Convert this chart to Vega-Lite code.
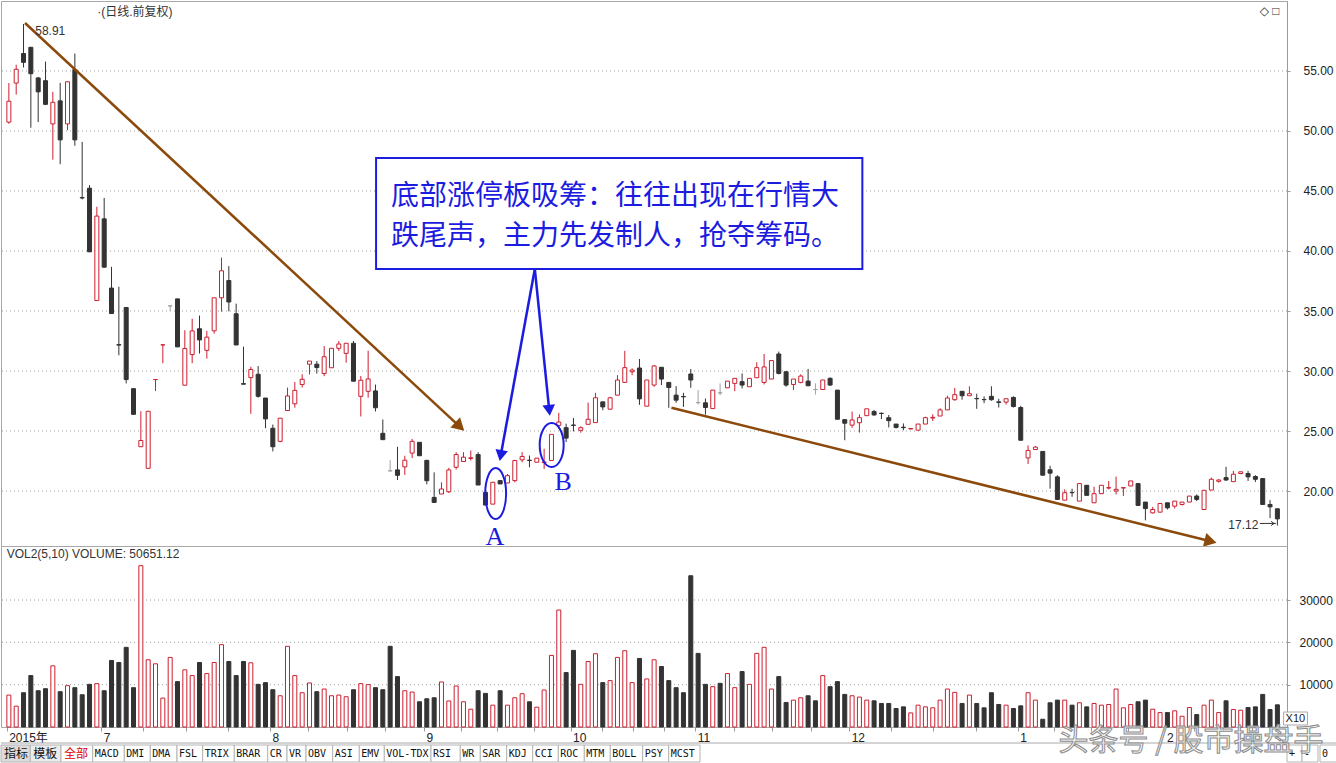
{
"$schema": "https://vega.github.io/schema/vega-lite/v6.json",
"padding": 0,
"background": "white",
"spacing": 0,
"bounds": "flush",
"config": {"view": {"stroke": null}, "font": "Liberation Sans", "axis": {"labelFont": "Liberation Sans, Noto Sans CJK SC", "labelColor": "#222222", "labelFontSize": 12, "domainColor": "#9a9a9a", "tickColor": "#9a9a9a"}},
"resolve": {"scale": {"x": "independent", "y": "independent", "fill": "independent", "stroke": "independent"}},
"datasets": {
"k": [
{"i":0,"o":50.74,"h":53.99,"l":50.6,"c":52.48,"v":7540,"dir":"up"},
{"i":1,"o":53.99,"h":55.52,"l":53.03,"c":55.14,"v":4920,"dir":"up"},
{"i":2,"o":56.45,"h":58.91,"l":55.29,"c":55.72,"v":8100,"dir":"down"},
{"i":3,"o":56.97,"h":57.0,"l":50.27,"c":54.77,"v":12150,"dir":"down"},
{"i":4,"o":54.42,"h":54.5,"l":50.74,"c":53.26,"v":8570,"dir":"down"},
{"i":5,"o":54.19,"h":55.78,"l":52.16,"c":52.22,"v":9050,"dir":"down"},
{"i":6,"o":50.59,"h":53.26,"l":47.61,"c":52.39,"v":14450,"dir":"up"},
{"i":7,"o":52.51,"h":54.01,"l":47.23,"c":49.26,"v":8340,"dir":"down"},
{"i":8,"o":50.59,"h":54.1,"l":50.07,"c":54.1,"v":9770,"dir":"up"},
{"i":9,"o":55.12,"h":56.45,"l":48.77,"c":49.26,"v":9290,"dir":"down"},
{"i":10,"o":44.45,"h":49.09,"l":44.3,"c":44.42,"v":7620,"dir":"down"},
{"i":11,"o":45.23,"h":45.49,"l":39.93,"c":39.93,"v":10080,"dir":"down"},
{"i":12,"o":35.87,"h":43.69,"l":35.87,"c":42.91,"v":10240,"dir":"up"},
{"i":13,"o":42.68,"h":44.42,"l":38.65,"c":38.65,"v":8570,"dir":"down"},
{"i":14,"o":36.91,"h":38.68,"l":34.79,"c":34.79,"v":15720,"dir":"down"},
{"i":15,"o":32.2,"h":37.03,"l":31.31,"c":32.16,"v":15240,"dir":"down"},
{"i":16,"o":35.29,"h":35.34,"l":28.97,"c":29.29,"v":18820,"dir":"down"},
{"i":17,"o":28.53,"h":28.53,"l":26.39,"c":26.39,"v":9290,"dir":"down"},
{"i":18,"o":23.69,"h":26.65,"l":23.69,"c":24.21,"v":38110,"dir":"up"},
{"i":19,"o":21.89,"h":26.65,"l":21.89,"c":26.65,"v":15880,"dir":"up"},
{"i":20,"o":29.29,"h":29.29,"l":28.33,"c":29.29,"v":14930,"dir":"up"},
{"i":21,"o":32.18,"h":32.18,"l":30.65,"c":32.18,"v":6830,"dir":"up"},
{"i":22,"o":35.43,"h":35.43,"l":35.0,"c":35.43,"v":16440,"dir":"flatup"},
{"i":23,"o":36.01,"h":36.01,"l":32.01,"c":32.01,"v":10720,"dir":"down"},
{"i":24,"o":28.82,"h":33.4,"l":28.82,"c":31.87,"v":13500,"dir":"up"},
{"i":25,"o":31.37,"h":34.36,"l":30.65,"c":33.34,"v":12150,"dir":"up"},
{"i":26,"o":33.52,"h":34.62,"l":31.46,"c":32.59,"v":15240,"dir":"down"},
{"i":27,"o":31.72,"h":33.34,"l":31.03,"c":32.82,"v":12620,"dir":"up"},
{"i":28,"o":33.35,"h":36.1,"l":33.11,"c":36.1,"v":15240,"dir":"up"},
{"i":29,"o":36.1,"h":39.45,"l":34.95,"c":38.35,"v":19450,"dir":"up"},
{"i":30,"o":37.54,"h":38.74,"l":34.97,"c":35.75,"v":15480,"dir":"down"},
{"i":31,"o":34.77,"h":35.61,"l":32.17,"c":32.17,"v":12150,"dir":"down"},
{"i":32,"o":28.95,"h":32.03,"l":28.9,"c":28.9,"v":15480,"dir":"down"},
{"i":33,"o":29.45,"h":30.35,"l":26.43,"c":30.13,"v":15170,"dir":"up"},
{"i":34,"o":29.73,"h":30.41,"l":27.78,"c":27.89,"v":10080,"dir":"down"},
{"i":35,"o":27.75,"h":27.75,"l":25.23,"c":26.01,"v":10480,"dir":"down"},
{"i":36,"o":25.23,"h":25.54,"l":23.3,"c":23.69,"v":8810,"dir":"down"},
{"i":37,"o":24.14,"h":26.07,"l":24.06,"c":26.07,"v":7380,"dir":"up"},
{"i":38,"o":26.71,"h":28.62,"l":26.71,"c":27.92,"v":19060,"dir":"up"},
{"i":39,"o":27.27,"h":29.09,"l":26.94,"c":28.39,"v":12150,"dir":"up"},
{"i":40,"o":28.87,"h":29.73,"l":28.62,"c":29.31,"v":8100,"dir":"up"},
{"i":41,"o":30.57,"h":30.83,"l":29.71,"c":30.83,"v":10400,"dir":"up"},
{"i":42,"o":30.57,"h":30.83,"l":29.79,"c":30.29,"v":8340,"dir":"down"},
{"i":43,"o":29.79,"h":32.08,"l":29.57,"c":31.19,"v":8970,"dir":"up"},
{"i":44,"o":30.27,"h":31.89,"l":30.27,"c":31.89,"v":7380,"dir":"up"},
{"i":45,"o":31.89,"h":32.5,"l":31.66,"c":32.25,"v":7540,"dir":"up"},
{"i":46,"o":31.47,"h":32.31,"l":30.69,"c":32.31,"v":7150,"dir":"up"},
{"i":47,"o":32.31,"h":32.5,"l":29.15,"c":29.15,"v":8810,"dir":"down"},
{"i":48,"o":27.89,"h":29.59,"l":26.21,"c":29.23,"v":10240,"dir":"up"},
{"i":49,"o":28.31,"h":31.69,"l":27.78,"c":29.34,"v":10000,"dir":"up"},
{"i":50,"o":28.34,"h":28.87,"l":26.63,"c":26.94,"v":9290,"dir":"down"},
{"i":51,"o":24.81,"h":25.96,"l":24.28,"c":24.28,"v":8810,"dir":"down"},
{"i":52,"o":21.68,"h":22.57,"l":21.68,"c":21.68,"v":19060,"dir":"flatdown"},
{"i":53,"o":21.76,"h":23.69,"l":20.92,"c":21.31,"v":11910,"dir":"down"},
{"i":54,"o":22.01,"h":22.94,"l":21.34,"c":22.57,"v":8570,"dir":"up"},
{"i":55,"o":23.16,"h":24.34,"l":22.74,"c":24.14,"v":8260,"dir":"up"},
{"i":56,"o":24.06,"h":24.06,"l":22.94,"c":22.94,"v":5960,"dir":"down"},
{"i":57,"o":22.56,"h":22.56,"l":20.56,"c":20.86,"v":6670,"dir":"down"},
{"i":58,"o":19.47,"h":21.56,"l":19.05,"c":19.05,"v":6910,"dir":"down"},
{"i":59,"o":19.75,"h":20.73,"l":19.75,"c":20.17,"v":10640,"dir":"up"},
{"i":60,"o":19.94,"h":21.93,"l":19.83,"c":21.76,"v":6150,"dir":"up"},
{"i":61,"o":21.98,"h":23.24,"l":21.79,"c":23.04,"v":9690,"dir":"up"},
{"i":62,"o":22.46,"h":23.24,"l":22.46,"c":22.82,"v":5960,"dir":"up"},
{"i":63,"o":22.71,"h":23.38,"l":22.54,"c":22.77,"v":4210,"dir":"up"},
{"i":64,"o":23.04,"h":23.24,"l":20.5,"c":20.5,"v":8570,"dir":"down"},
{"i":65,"o":19.89,"h":19.89,"l":18.83,"c":18.83,"v":7940,"dir":"down"},
{"i":66,"o":18.91,"h":20.73,"l":18.91,"c":20.73,"v":5160,"dir":"up"},
{"i":67,"o":20.87,"h":20.87,"l":20.59,"c":20.59,"v":8570,"dir":"down"},
{"i":68,"o":20.67,"h":21.42,"l":20.67,"c":21.28,"v":5160,"dir":"up"},
{"i":69,"o":20.87,"h":22.6,"l":20.73,"c":22.54,"v":6910,"dir":"up"},
{"i":70,"o":22.6,"h":23.24,"l":22.4,"c":22.88,"v":7860,"dir":"up"},
{"i":71,"o":22.57,"h":22.96,"l":21.98,"c":22.54,"v":5960,"dir":"down"},
{"i":72,"o":22.4,"h":22.74,"l":22.4,"c":22.74,"v":4680,"dir":"up"},
{"i":73,"o":22.37,"h":23.52,"l":21.84,"c":22.42,"v":8730,"dir":"up"},
{"i":74,"o":22.54,"h":24.72,"l":22.54,"c":24.72,"v":16910,"dir":"up"},
{"i":75,"o":25.47,"h":26.51,"l":25.2,"c":25.75,"v":27630,"dir":"up"},
{"i":76,"o":25.28,"h":25.61,"l":24.08,"c":24.41,"v":12860,"dir":"down"},
{"i":77,"o":25.5,"h":26.09,"l":24.97,"c":25.47,"v":18100,"dir":"down"},
{"i":78,"o":25.06,"h":25.39,"l":24.86,"c":25.28,"v":10080,"dir":"up"},
{"i":79,"o":25.56,"h":27.37,"l":25.56,"c":25.98,"v":15480,"dir":"up"},
{"i":80,"o":25.7,"h":28.18,"l":25.7,"c":27.77,"v":17310,"dir":"up"},
{"i":81,"o":27.43,"h":27.43,"l":26.73,"c":27.01,"v":10480,"dir":"down"},
{"i":82,"o":26.82,"h":27.85,"l":26.82,"c":27.77,"v":10960,"dir":"up"},
{"i":83,"o":27.99,"h":29.66,"l":27.99,"c":29.25,"v":16440,"dir":"up"},
{"i":84,"o":29.05,"h":31.68,"l":29.05,"c":30.28,"v":18020,"dir":"up"},
{"i":85,"o":29.94,"h":30.22,"l":29.66,"c":30.08,"v":10480,"dir":"up"},
{"i":86,"o":30.25,"h":31.0,"l":27.18,"c":27.68,"v":16200,"dir":"down"},
{"i":87,"o":27.07,"h":29.25,"l":27.07,"c":29.25,"v":11350,"dir":"up"},
{"i":88,"o":28.83,"h":30.5,"l":28.69,"c":30.42,"v":15880,"dir":"up"},
{"i":89,"o":30.31,"h":30.31,"l":28.83,"c":29.33,"v":14290,"dir":"down"},
{"i":90,"o":29.05,"h":29.05,"l":26.93,"c":28.63,"v":10960,"dir":"down"},
{"i":91,"o":27.99,"h":28.74,"l":27.35,"c":27.57,"v":9290,"dir":"down"},
{"i":92,"o":27.88,"h":28.18,"l":27.01,"c":27.85,"v":8100,"dir":"down"},
{"i":93,"o":29.75,"h":30.17,"l":28.6,"c":29.25,"v":35730,"dir":"down"},
{"i":94,"o":27.37,"h":28.41,"l":27.21,"c":27.37,"v":17390,"dir":"flatdown"},
{"i":95,"o":27.35,"h":27.71,"l":26.37,"c":26.96,"v":10080,"dir":"down"},
{"i":96,"o":26.87,"h":28.41,"l":26.87,"c":28.41,"v":9530,"dir":"up"},
{"i":97,"o":28.18,"h":28.97,"l":27.99,"c":28.18,"v":10320,"dir":"flatdown"},
{"i":98,"o":28.6,"h":29.16,"l":28.6,"c":29.16,"v":12620,"dir":"up"},
{"i":99,"o":28.97,"h":29.39,"l":28.32,"c":29.39,"v":9290,"dir":"up"},
{"i":100,"o":29.11,"h":29.8,"l":28.55,"c":28.83,"v":13100,"dir":"down"},
{"i":101,"o":28.69,"h":29.39,"l":28.69,"c":29.39,"v":10080,"dir":"up"},
{"i":102,"o":29.44,"h":30.73,"l":29.44,"c":30.28,"v":17390,"dir":"up"},
{"i":103,"o":29.05,"h":31.42,"l":28.88,"c":30.34,"v":18820,"dir":"up"},
{"i":104,"o":29.33,"h":30.87,"l":29.33,"c":30.87,"v":8970,"dir":"up"},
{"i":105,"o":31.42,"h":31.62,"l":29.72,"c":29.8,"v":11910,"dir":"down"},
{"i":106,"o":29.94,"h":29.94,"l":28.69,"c":28.83,"v":5800,"dir":"down"},
{"i":107,"o":28.88,"h":29.33,"l":28.41,"c":29.33,"v":6350,"dir":"up"},
{"i":108,"o":29.05,"h":29.72,"l":28.97,"c":29.58,"v":6910,"dir":"up"},
{"i":109,"o":29.16,"h":30.17,"l":28.77,"c":28.77,"v":7380,"dir":"down"},
{"i":110,"o":28.46,"h":28.97,"l":28.04,"c":28.46,"v":6190,"dir":"flatdown"},
{"i":111,"o":28.46,"h":29.25,"l":28.46,"c":29.25,"v":12150,"dir":"up"},
{"i":112,"o":29.39,"h":29.47,"l":28.77,"c":28.83,"v":9530,"dir":"down"},
{"i":113,"o":28.41,"h":28.41,"l":25.98,"c":25.98,"v":10720,"dir":"down"},
{"i":114,"o":25.95,"h":25.95,"l":24.23,"c":25.65,"v":7700,"dir":"down"},
{"i":115,"o":25.49,"h":26.62,"l":25.27,"c":25.92,"v":7380,"dir":"up"},
{"i":116,"o":25.69,"h":26.39,"l":24.87,"c":26.11,"v":7070,"dir":"up"},
{"i":117,"o":26.28,"h":26.85,"l":26.28,"c":26.85,"v":6350,"dir":"up"},
{"i":118,"o":26.62,"h":26.76,"l":26.28,"c":26.34,"v":6190,"dir":"down"},
{"i":119,"o":26.48,"h":26.54,"l":26.0,"c":26.46,"v":5560,"dir":"down"},
{"i":120,"o":26.11,"h":26.34,"l":25.3,"c":25.86,"v":5560,"dir":"down"},
{"i":121,"o":25.58,"h":25.58,"l":25.21,"c":25.3,"v":4370,"dir":"down"},
{"i":122,"o":25.32,"h":25.63,"l":25.07,"c":25.28,"v":4760,"dir":"down"},
{"i":123,"o":25.17,"h":25.21,"l":25.17,"c":25.21,"v":3330,"dir":"up"},
{"i":124,"o":25.07,"h":25.58,"l":25.07,"c":25.58,"v":5160,"dir":"up"},
{"i":125,"o":25.58,"h":26.2,"l":25.58,"c":26.11,"v":4760,"dir":"up"},
{"i":126,"o":26.08,"h":26.39,"l":25.83,"c":26.14,"v":4530,"dir":"up"},
{"i":127,"o":26.25,"h":26.9,"l":26.25,"c":26.76,"v":6350,"dir":"up"},
{"i":128,"o":26.76,"h":27.94,"l":26.76,"c":27.75,"v":8970,"dir":"up"},
{"i":129,"o":27.61,"h":28.59,"l":27.52,"c":28.03,"v":8180,"dir":"up"},
{"i":130,"o":28.31,"h":28.31,"l":27.61,"c":27.94,"v":5560,"dir":"down"},
{"i":131,"o":27.94,"h":28.73,"l":27.94,"c":28.11,"v":7540,"dir":"up"},
{"i":132,"o":27.71,"h":28.11,"l":26.85,"c":27.69,"v":5560,"dir":"down"},
{"i":133,"o":27.63,"h":27.89,"l":27.32,"c":27.61,"v":4530,"dir":"down"},
{"i":134,"o":27.89,"h":28.73,"l":27.52,"c":27.61,"v":8100,"dir":"down"},
{"i":135,"o":27.43,"h":27.69,"l":26.96,"c":27.38,"v":5320,"dir":"down"},
{"i":136,"o":27.41,"h":27.69,"l":27.2,"c":27.69,"v":5160,"dir":"up"},
{"i":137,"o":27.8,"h":27.89,"l":26.96,"c":27.04,"v":4370,"dir":"down"},
{"i":138,"o":26.96,"h":27.1,"l":24.23,"c":24.23,"v":5000,"dir":"down"},
{"i":139,"o":22.76,"h":23.8,"l":22.25,"c":23.38,"v":8100,"dir":"up"},
{"i":140,"o":23.46,"h":23.75,"l":23.46,"c":23.66,"v":6350,"dir":"up"},
{"i":141,"o":23.3,"h":23.3,"l":21.32,"c":21.32,"v":1830,"dir":"down"},
{"i":142,"o":21.77,"h":22.11,"l":20.2,"c":21.49,"v":5720,"dir":"down"},
{"i":143,"o":21.18,"h":21.32,"l":19.3,"c":19.3,"v":6350,"dir":"down"},
{"i":144,"o":19.24,"h":20.14,"l":19.24,"c":19.86,"v":6350,"dir":"up"},
{"i":145,"o":19.88,"h":20.2,"l":19.52,"c":19.86,"v":5160,"dir":"down"},
{"i":146,"o":19.16,"h":20.62,"l":19.16,"c":20.62,"v":5720,"dir":"up"},
{"i":147,"o":20.48,"h":20.48,"l":19.64,"c":19.64,"v":4760,"dir":"down"},
{"i":148,"o":19.02,"h":20.36,"l":19.02,"c":19.78,"v":5560,"dir":"up"},
{"i":149,"o":19.78,"h":20.48,"l":19.78,"c":20.48,"v":5160,"dir":"up"},
{"i":150,"o":20.25,"h":20.84,"l":20.14,"c":20.28,"v":5320,"dir":"up"},
{"i":151,"o":20.0,"h":21.2,"l":19.72,"c":20.14,"v":8970,"dir":"up"},
{"i":152,"o":20.25,"h":20.28,"l":19.58,"c":20.28,"v":4530,"dir":"up"},
{"i":153,"o":20.42,"h":20.84,"l":20.42,"c":20.84,"v":5320,"dir":"up"},
{"i":154,"o":20.62,"h":20.62,"l":18.8,"c":18.8,"v":5960,"dir":"down"},
{"i":155,"o":19.08,"h":19.08,"l":17.56,"c":18.54,"v":6350,"dir":"down"},
{"i":156,"o":18.18,"h":18.68,"l":18.12,"c":18.46,"v":4210,"dir":"up"},
{"i":157,"o":18.24,"h":18.96,"l":18.24,"c":18.96,"v":3410,"dir":"up"},
{"i":158,"o":19.02,"h":19.02,"l":18.46,"c":18.6,"v":3410,"dir":"down"},
{"i":159,"o":18.74,"h":19.16,"l":18.54,"c":19.16,"v":3810,"dir":"up"},
{"i":160,"o":18.88,"h":19.08,"l":18.8,"c":19.08,"v":2540,"dir":"up"},
{"i":161,"o":19.08,"h":19.58,"l":19.08,"c":19.58,"v":4600,"dir":"up"},
{"i":162,"o":19.58,"h":19.72,"l":19.16,"c":19.3,"v":2940,"dir":"down"},
{"i":163,"o":18.46,"h":20.06,"l":18.46,"c":20.06,"v":5160,"dir":"up"},
{"i":164,"o":20.08,"h":21.12,"l":20.08,"c":20.98,"v":6350,"dir":"up"},
{"i":165,"o":20.81,"h":20.98,"l":20.7,"c":20.92,"v":3410,"dir":"up"},
{"i":166,"o":21.12,"h":22.02,"l":20.84,"c":20.92,"v":6190,"dir":"down"},
{"i":167,"o":20.78,"h":21.68,"l":20.76,"c":21.4,"v":4130,"dir":"up"},
{"i":168,"o":21.46,"h":21.62,"l":21.4,"c":21.6,"v":3970,"dir":"up"},
{"i":169,"o":21.46,"h":21.68,"l":20.84,"c":21.18,"v":4600,"dir":"down"},
{"i":170,"o":21.21,"h":21.32,"l":20.76,"c":20.98,"v":4760,"dir":"down"},
{"i":171,"o":21.04,"h":21.04,"l":18.88,"c":18.88,"v":7700,"dir":"down"},
{"i":172,"o":18.88,"h":19.24,"l":17.74,"c":18.68,"v":4130,"dir":"down"},
{"i":173,"o":18.52,"h":18.52,"l":17.12,"c":17.68,"v":5240,"dir":"down"}
],
"tabs": [
{"tab":"指标","from":0,"to":29.3},
{"tab":"模板","from":29.3,"to":60},
{"tab":"全部","from":60,"to":91.7},
{"tab":"MACD","from":91.7,"to":123.3},
{"tab":"DMI","from":123.3,"to":149.3},
{"tab":"DMA","from":149.3,"to":176},
{"tab":"FSL","from":176,"to":201.7},
{"tab":"TRIX","from":201.7,"to":233.3},
{"tab":"BRAR","from":233.3,"to":266.7},
{"tab":"CR","from":266.7,"to":286},
{"tab":"VR","from":286,"to":305},
{"tab":"OBV","from":305,"to":331.7},
{"tab":"ASI","from":331.7,"to":358.3},
{"tab":"EMV","from":358.3,"to":383.3},
{"tab":"VOL-TDX","from":383.3,"to":430},
{"tab":"RSI","from":430,"to":459.3},
{"tab":"WR","from":459.3,"to":479.3},
{"tab":"SAR","from":479.3,"to":505.7},
{"tab":"KDJ","from":505.7,"to":531.7},
{"tab":"CCI","from":531.7,"to":557.3},
{"tab":"ROC","from":557.3,"to":583.3},
{"tab":"MTM","from":583.3,"to":609.3},
{"tab":"BOLL","from":609.3,"to":641.7},
{"tab":"PSY","from":641.7,"to":667.7},
{"tab":"MCST","from":667.7,"to":699},
{"tab":"+","from":1286,"to":1301},
{"tab":"-","from":1301,"to":1317},
{"tab":"0","from":1319,"to":1336}
]
},
"vconcat": [
{
"width": 1286, "height": 545,
"view": {"stroke": "#a8a8a8"},
"layer": [
{"data": {"values": [{"g": 20}, {"g": 25}, {"g": 30}, {"g": 35}, {"g": 40}, {"g": 45}, {"g": 50}, {"g": 55}]},
 "mark": {"type": "rule", "color": "#a0a0a0", "strokeWidth": 1, "strokeDash": [1, 3]},
 "encoding": {
  "y": {"field": "g", "type": "quantitative", "scale": {"domain": [15.42, 60.83], "nice": false, "zero": false},
   "axis": {"orient": "right", "title": null, "grid": false, "format": ".2f",
    "values": [20,22.5,25,27.5,30,32.5,35,37.5,40,42.5,45,47.5,50,52.5,55],
    "labelOverlap": false, "labelFlush": false, "labelBound": false, "labelPadding": 13, "tickSize": 3, "labelFont": "Liberation Sans", "labelColor": "#222222", "labelFontSize": 12}}
 }},
{"data": {"name": "k"}, "mark": {"type": "rule", "strokeWidth": 1},
 "encoding": {
  "x": {"field": "i", "type": "quantitative", "scale": {"domain": [-0.39, 173.63], "nice": false, "zero": false}, "axis": null},
  "y": {"field": "l", "type": "quantitative"},
  "y2": {"field": "h"},
  "stroke": {"field": "dir", "type": "nominal", "scale": {"domain": ["up","down","flatup","flatdown"], "range": ["#cc1f2f","#333333","#a0a0a0","#a0a0a0"]}, "legend": null}
 }},
{"data": {"name": "k"}, "mark": {"type": "bar", "width": 4, "strokeWidth": 1, "orient": "vertical"},
 "encoding": {
  "x": {"field": "i", "type": "quantitative"},
  "y": {"field": "o", "type": "quantitative"},
  "y2": {"field": "c"},
  "fill": {"field": "dir", "type": "nominal", "scale": {"domain": ["up","down","flatup","flatdown"], "range": ["#ffffff","#333333","#a0a0a0","#a0a0a0"]}, "legend": null},
  "stroke": {"field": "dir", "type": "nominal", "legend": null}
 }},
{"data": {"values": [{"x": 2.2, "y": 59.0, "x2": 61.49, "y2": 25.37}, {"x": 90.36, "y": 26.94, "x2": 163.89, "y2": 15.81}]},
 "mark": {"type": "rule", "color": "#8b4a0c", "strokeWidth": 2.5},
 "encoding": {"x": {"field": "x", "type": "quantitative"}, "y": {"field": "y", "type": "quantitative"}, "x2": {"field": "x2"}, "y2": {"field": "y2"}}},
{"data": {"values": [{"x": 61.49, "y": 25.37}]},
 "mark": {"type": "point", "shape": "triangle-up", "filled": true, "size": 200, "angle": 132.85, "color": "#8b4a0c", "opacity": 1},
 "encoding": {"x": {"field": "x", "type": "quantitative"}, "y": {"field": "y", "type": "quantitative"}}},
{"data": {"values": [{"x": 163.89, "y": 15.81}]},
 "mark": {"type": "point", "shape": "triangle-up", "filled": true, "size": 200, "angle": 103.8, "color": "#8b4a0c", "opacity": 1},
 "encoding": {"x": {"field": "x", "type": "quantitative"}, "y": {"field": "y", "type": "quantitative"}}},
{"data": {"values": [{"x": 71.73, "y": 38.5, "x2": 67.08, "y2": 22.96}, {"x": 71.73, "y": 38.5, "x2": 73.7, "y2": 26.72}]},
 "mark": {"type": "rule", "color": "#1c1ce0", "strokeWidth": 2.5},
 "encoding": {"x": {"field": "x", "type": "quantitative"}, "y": {"field": "y", "type": "quantitative"}, "x2": {"field": "x2"}, "y2": {"field": "y2"}}},
{"data": {"values": [{"x": 67.08, "y": 22.96}]},
 "mark": {"type": "point", "shape": "triangle-up", "filled": true, "size": 160, "angle": 190.44, "color": "#1c1ce0", "opacity": 1},
 "encoding": {"x": {"field": "x", "type": "quantitative"}, "y": {"field": "y", "type": "quantitative"}}},
{"data": {"values": [{"x": 73.7, "y": 26.72}]},
 "mark": {"type": "point", "shape": "triangle-up", "filled": true, "size": 160, "angle": 174.1, "color": "#1c1ce0", "opacity": 1},
 "encoding": {"x": {"field": "x", "type": "quantitative"}, "y": {"field": "y", "type": "quantitative"}}},
{"data": {"values": [{"x": 66.39, "y": 19.79}]},
 "mark": {"type": "point", "shape": "M-0.41,0C-0.41,-0.5523,-0.2264,-1,0,-1C0.2264,-1,0.41,-0.5523,0.41,0C0.41,0.5523,0.2264,1,0,1C-0.2264,1,-0.41,0.5523,-0.41,0Z", "filled": false, "size": 2601, "stroke": "#1c1ce0", "strokeWidth": 2, "opacity": 1},
 "encoding": {"x": {"field": "x", "type": "quantitative"}, "y": {"field": "y", "type": "quantitative"}}},
{"data": {"values": [{"x": 74.03, "y": 23.83}]},
 "mark": {"type": "point", "shape": "M-0.545,0C-0.545,-0.5523,-0.301,-1,0,-1C0.301,-1,0.545,-0.5523,0.545,0C0.545,0.5523,0.301,1,0,1C-0.301,1,-0.545,0.5523,-0.545,0Z", "filled": false, "size": 1936, "stroke": "#1c1ce0", "strokeWidth": 2, "opacity": 1},
 "encoding": {"x": {"field": "x", "type": "quantitative"}, "y": {"field": "y", "type": "quantitative"}}},
{"data": {"values": [{"x": 66.3, "y": 16.17, "t": "A"}, {"x": 75.6, "y": 20.75, "t": "B"}]},
 "mark": {"type": "text", "font": "Liberation Serif", "fontSize": 26, "color": "#1c1ce0", "align": "center", "baseline": "middle"},
 "encoding": {"x": {"field": "x", "type": "quantitative"}, "y": {"field": "y", "type": "quantitative"}, "text": {"field": "t"}}},
{"data": {"values": [{"x": 50.08, "y": 47.75, "x2": 116.4, "y2": 38.5}]},
 "mark": {"type": "rect", "fill": "#ffffff", "stroke": "#1c1ce0", "strokeWidth": 2},
 "encoding": {"x": {"field": "x", "type": "quantitative"}, "y": {"field": "y", "type": "quantitative"}, "x2": {"field": "x2"}, "y2": {"field": "y2"}}},
{"data": {"values": [{"x": 52.1, "y": 44.5, "t": "底部涨停板吸筹：往往出现在行情大"}, {"x": 52.1, "y": 41.17, "t": "跌尾声，主力先发制人，抢夺筹码。"}]},
 "mark": {"type": "text", "font": "Noto Sans CJK SC", "fontSize": 28, "color": "#1c1ce0", "align": "left", "baseline": "middle"},
 "encoding": {"x": {"field": "x", "type": "quantitative"}, "y": {"field": "y", "type": "quantitative"}, "text": {"field": "t"}}},
{"data": {"values": [{"x": 12.06, "y": 59.92, "t": "·(日线.前复权)"}, {"x": 3.6, "y": 58.33, "t": "58.91"}]},
 "mark": {"type": "text", "font": "Liberation Sans, Noto Sans CJK SC", "fontSize": 12, "color": "#333333", "align": "left", "baseline": "middle"},
 "encoding": {"x": {"field": "x", "type": "quantitative"}, "y": {"field": "y", "type": "quantitative"}, "text": {"field": "t"}}},
{"data": {"values": [{"x": 170.4, "y": 17.17, "t": "17.12"}, {"x": 173.3, "y": 59.98, "t": "◇ □"}]},
 "mark": {"type": "text", "font": "Liberation Sans, DejaVu Sans", "fontSize": 12, "color": "#333333", "align": "right", "baseline": "middle"},
 "encoding": {"x": {"field": "x", "type": "quantitative"}, "y": {"field": "y", "type": "quantitative"}, "text": {"field": "t"}}},
{"data": {"values": [{"x": 170.6, "y": 17.3, "x2": 172.8, "y2": 17.3}]},
 "mark": {"type": "rule", "color": "#333333", "strokeWidth": 1},
 "encoding": {"x": {"field": "x", "type": "quantitative"}, "y": {"field": "y", "type": "quantitative"}, "x2": {"field": "x2"}, "y2": {"field": "y2"}}},
{"data": {"values": [{"x": 172.55, "y": 17.3}]},
 "mark": {"type": "point", "shape": "M-1,-0.7L0,0L-1,0.7", "filled": false, "size": 36, "stroke": "#333333", "strokeWidth": 1, "opacity": 1},
 "encoding": {"x": {"field": "x", "type": "quantitative"}, "y": {"field": "y", "type": "quantitative"}}}
]
},
{
"width": 1286, "height": 181,
"view": {"stroke": "#a8a8a8"},
"layer": [
{"data": {"values": [{"g": 10000}, {"g": 20000}, {"g": 30000}]},
 "mark": {"type": "rule", "color": "#a0a0a0", "strokeWidth": 1, "strokeDash": [1, 3]},
 "encoding": {
  "y": {"field": "g", "type": "quantitative", "scale": {"domain": [0, 42760], "nice": false},
   "axis": {"orient": "right", "title": null, "grid": false, "format": "d", "values": [10000, 20000, 30000],
    "labelOverlap": false, "labelFlush": false, "labelBound": false, "labelPadding": 9, "tickSize": 3, "labelFont": "Liberation Sans", "labelColor": "#222222", "labelFontSize": 12}}
 }},
{"data": {"name": "k"}, "mark": {"type": "bar", "width": 4, "strokeWidth": 1, "orient": "vertical"},
 "encoding": {
  "x": {"field": "i", "type": "quantitative", "scale": {"domain": [-0.39, 173.63], "nice": false, "zero": false},
   "axis": {"title": null, "values": [-0.3, 12.6, 18.35, 24.1, 29.85, 35.6, 40.85, 46.1, 51.35, 56.6, 61.6, 66.6, 71.6, 76.6, 80.85, 85.1, 89.35, 93.6, 98.85, 104.1, 109.35, 114.6, 120.35, 126.1, 131.85, 137.6, 142.6, 147.6, 152.6, 157.6, 161.6, 165.6, 169.6],
    "labelExpr": "datum.value < 0 ? '2015年' : datum.value == 12.6 ? '7' : datum.value == 35.6 ? '8' : datum.value == 56.6 ? '9' : datum.value == 76.6 ? '10' : datum.value == 93.6 ? '11' : datum.value == 114.6 ? '12' : datum.value == 137.6 ? '1' : datum.value == 157.6 ? '2' : ''",
    "labelAlign": "left", "labelOffset": 2, "labelBaseline": "top", "labelPadding": 1, "tickSize": 4, "domain": false, "grid": false,
    "labelOverlap": false, "labelFlush": false, "labelBound": false}},
  "y": {"field": "v", "type": "quantitative"},
  "fill": {"field": "dir", "type": "nominal", "scale": {"domain": ["up","down","flatup","flatdown"], "range": ["#ffffff","#333333","#ffffff","#333333"]}, "legend": null},
  "stroke": {"field": "dir", "type": "nominal", "scale": {"domain": ["up","down","flatup","flatdown"], "range": ["#cc1f2f","#333333","#cc1f2f","#333333"]}, "legend": null}
 }},
{"data": {"values": [{"x": -0.3, "y": 40870, "t": "VOL2(5,10) VOLUME: 50651.12"}]},
 "mark": {"type": "text", "font": "Liberation Sans", "fontSize": 12, "color": "#333333", "align": "left", "baseline": "middle"},
 "encoding": {"x": {"field": "x", "type": "quantitative"}, "y": {"field": "y", "type": "quantitative"}, "text": {"field": "t"}}},
{"data": {"values": [{"x": 173.85, "y": 3540, "x2": 177.1, "y2": 470}]},
 "mark": {"type": "rect", "fill": "#ffffff", "stroke": "#a8a8a8", "strokeWidth": 1},
 "encoding": {"x": {"field": "x", "type": "quantitative"}, "y": {"field": "y", "type": "quantitative"}, "x2": {"field": "x2"}, "y2": {"field": "y2"}}},
{"data": {"values": [{"x": 175.45, "y": 2000, "t": "X10"}]},
 "mark": {"type": "text", "font": "Liberation Sans", "fontSize": 11, "color": "#222222", "align": "center", "baseline": "middle"},
 "encoding": {"x": {"field": "x", "type": "quantitative"}, "y": {"field": "y", "type": "quantitative"}, "text": {"field": "t"}}}
]
},
{
"width": 1336, "height": 37,
"layer": [
{"data": {"values": [{"y": 21}]}, "mark": {"type": "rule", "color": "#a8a8a8", "strokeWidth": 1},
 "encoding": {"y": {"field": "y", "type": "quantitative", "scale": {"domain": [0, 37], "nice": false}, "axis": null}}},
{"data": {"name": "tabs"}, "mark": {"type": "rect", "stroke": "#b4b4b4", "strokeWidth": 1},
 "encoding": {
  "x": {"field": "from", "type": "quantitative", "scale": {"domain": [0, 1336], "nice": false, "zero": false}, "axis": null},
  "x2": {"field": "to"},
  "y": {"datum": 2, "type": "quantitative"},
  "y2": {"datum": 19},
  "fill": {"condition": [{"test": "datum.tab === '指标'", "value": "#dcdcdc"}, {"test": "datum.tab === '模板'", "value": "#ececec"}], "value": "#ffffff"}
 }},
{"data": {"name": "tabs"}, "transform": [{"filter": "indexof(['指标','模板','全部'], datum.tab) >= 0"}],
 "mark": {"type": "text", "font": "Noto Sans CJK SC", "fontSize": 12, "align": "left", "baseline": "middle", "dx": 3},
 "encoding": {
  "x": {"field": "from", "type": "quantitative"},
  "y": {"datum": 10.5, "type": "quantitative"},
  "text": {"field": "tab"},
  "color": {"condition": {"test": "datum.tab === '全部'", "value": "#dd0000"}, "value": "#111111"}
 }},
{"data": {"name": "tabs"}, "transform": [{"filter": "indexof(['指标','模板','全部'], datum.tab) < 0"}],
 "mark": {"type": "text", "font": "DejaVu Sans Mono", "fontSize": 10, "align": "left", "baseline": "middle", "dx": 2, "color": "#111111"},
 "encoding": {
  "x": {"field": "from", "type": "quantitative"},
  "y": {"datum": 10.5, "type": "quantitative"},
  "text": {"field": "tab"}
 }},
{"data": {"values": [{"x": 1190, "y": 23, "t": "头条号 / 股市操盘手"}]},
 "mark": {"type": "text", "font": "Noto Sans CJK SC", "fontSize": 30, "align": "center", "baseline": "middle", "fill": "#f4f4f4", "fillOpacity": 0.75, "stroke": "#8c8c8c", "strokeWidth": 1},
 "encoding": {"x": {"field": "x", "type": "quantitative"}, "y": {"field": "y", "type": "quantitative"}, "text": {"field": "t"}}}
]
}
]
}
